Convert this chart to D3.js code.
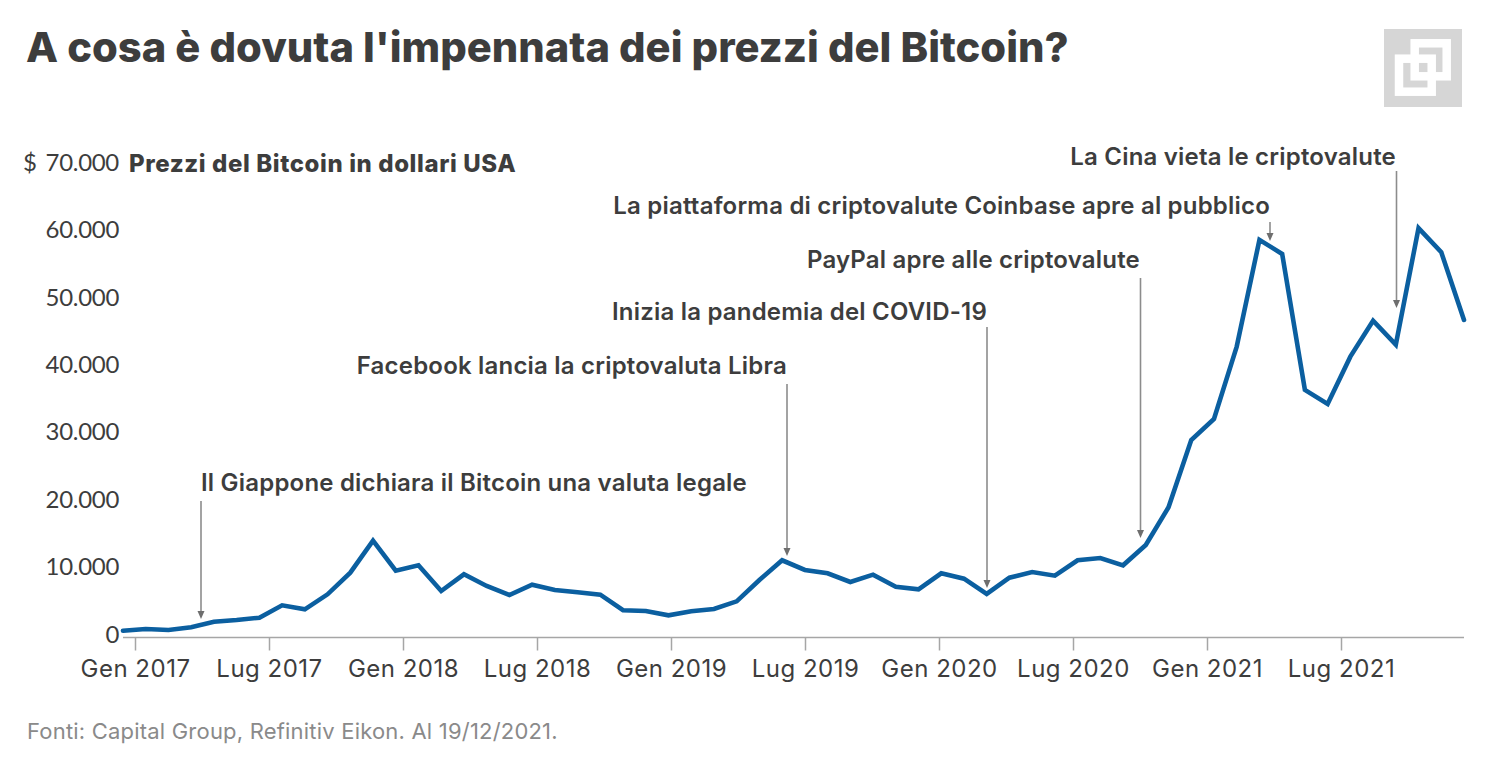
<!DOCTYPE html>
<html>
<head>
<meta charset="utf-8">
<script src="https://cdn.jsdelivr.net/npm/d3@7"></script>
<style>
  body { margin: 0; background: #fff; }
  text { font-family: "Inter", sans-serif; }
</style>
</head>
<body>
<svg id="graphic" width="1500" height="761"></svg>
<script>
// monthly prices, Gen 2017 -> Dic 2021
var prices = [1000, 1260, 1110, 1510, 2340, 2600, 2940, 4780, 4180, 6410, 9620, 14360,
  9910, 10710, 6900, 9380, 7640, 6310, 7840, 7050, 6710, 6350, 4040, 3930,
  3290, 3890, 4230, 5370, 8530, 11460, 10020, 9530, 8240, 9320, 7540, 7150,
  9530, 8730, 6460, 8870, 9720, 9170, 11460, 11800, 10710, 13730, 19320, 29310,
  32430, 43160, 58990, 56910, 36730, 34650, 41670, 47010, 43450, 60730, 57160, 47120];
var yTicks = [0, 10000, 20000, 30000, 40000, 50000, 60000, 70000];
var yLabels = ['0', '10.000', '20.000', '30.000', '40.000', '50.000', '60.000', '$ 70.000'];
var xTicks = [0, 6, 12, 18, 24, 30, 36, 42, 48, 54];
var xLabels = ['Gen 2017', 'Lug 2017', 'Gen 2018', 'Lug 2018', 'Gen 2019', 'Lug 2019', 'Gen 2020', 'Lug 2020', 'Gen 2021', 'Lug 2021'];
var events = ['Il Giappone dichiara il Bitcoin una valuta legale',
  'Facebook lancia la criptovaluta Libra',
  'Inizia la pandemia del COVID-19',
  'PayPal apre alle criptovalute',
  'La piattaforma di criptovalute Coinbase apre al pubblico',
  'La Cina vieta le criptovalute'];

var svg = d3.select('#graphic');
var ink = '#3d3d3d';

var x = d3.scaleLinear().domain([0, prices.length - 1]).range([123, 1464]);
// tick marks run on their own slightly tighter spacing than the points
var xTick = d3.scaleLinear().domain([0, 54]).range([135, 1341]);
var y = d3.scaleLinear().domain([0, 70000]).range([637.5, 165.7]);

// title + subtitle
svg.append('text').attr('x', 26).attr('y', 62)
  .style('font-size', '41.7px').style('font-weight', 800).attr('fill', ink)
  .text("A cosa è dovuta l'impennata dei prezzi del Bitcoin?");
svg.append('text').attr('x', 129).attr('y', 172)
  .style('font-size', '24px').style('font-weight', 800).style('letter-spacing', '0.6px').attr('fill', ink)
  .text('Prezzi del Bitcoin in dollari USA');

// logo
var logo = svg.append('g');
logo.append('rect').attr('x', 1384).attr('y', 29).attr('width', 78).attr('height', 78).attr('fill', '#d6d6d6');
logo.append('rect').attr('x', 1414.7).attr('y', 43.3).attr('width', 32).attr('height', 33)
  .attr('fill', 'none').attr('stroke', '#fff').attr('stroke-width', 8.5);
logo.append('rect').attr('x', 1399).attr('y', 58.7).attr('width', 32.7).attr('height', 33)
  .attr('fill', 'none').attr('stroke', '#fff').attr('stroke-width', 8.5);

// y axis, labels sit a little above the real value
var yAxis = svg.append('g').attr('transform', 'translate(119,-3)')
  .call(d3.axisLeft(y).tickValues(yTicks).tickSize(0).tickPadding(0).tickFormat(function (d, i) { return yLabels[i]; }));
yAxis.select('.domain').remove();
yAxis.selectAll('text').style('font-size', '24px').style('font-family', 'Lato')
  .style('letter-spacing', '-0.3px').style('word-spacing', '3px').attr('fill', ink);

// x axis
var xAxis = svg.append('g').attr('transform', 'translate(0,637.5)')
  .call(d3.axisBottom(xTick).tickValues(xTicks).tickSize(13).tickPadding(9).tickFormat(function (d, i) { return xLabels[i]; }));
xAxis.select('.domain').remove();
xAxis.selectAll('line').attr('stroke', '#a6a6a6').attr('stroke-width', 1.5);
xAxis.selectAll('text').style('font-size', '24px').style('font-family', 'Inter')
  .style('letter-spacing', '0.5px').attr('fill', ink);
svg.append('line').attr('x1', 123).attr('x2', 1464).attr('y1', 637.5).attr('y2', 637.5)
  .attr('stroke', '#a6a6a6').attr('stroke-width', 1.5);

// annotations
var anchors = [
  { tx: 201, ty: 491, anchor: 'start', ax: 201, y1: 501, y2: 619 },
  { tx: 787, ty: 374, anchor: 'end', ax: 787, y1: 384, y2: 556 },
  { tx: 987, ty: 320, anchor: 'end', ax: 987, y1: 327, y2: 588 },
  { tx: 1140, ty: 268, anchor: 'end', ax: 1140.5, y1: 278, y2: 538 },
  { tx: 1270, ty: 214, anchor: 'end', ax: 1270, y1: 222, y2: 241 },
  { tx: 1396, ty: 165, anchor: 'end', ax: 1396.5, y1: 171, y2: 308 }
];
anchors.forEach(function (a, i) {
  svg.append('text').attr('x', a.tx).attr('y', a.ty).attr('text-anchor', a.anchor)
    .style('font-size', '24px').style('font-weight', 600).style('letter-spacing', '0.2px')
    .attr('fill', ink).text(events[i]);
  svg.append('line').attr('x1', a.ax).attr('x2', a.ax).attr('y1', a.y1).attr('y2', a.y2 - 6)
    .attr('stroke', '#8c8c8c').attr('stroke-width', 1.6);
  svg.append('path').attr('fill', '#6e6e6e')
    .attr('d', 'M' + (a.ax - 3.5) + ',' + (a.y2 - 8) + 'L' + (a.ax + 3.5) + ',' + (a.y2 - 8) + 'L' + a.ax + ',' + a.y2 + 'Z');
});

// price line
var line = d3.line().x(function (d, i) { return x(i); }).y(function (d) { return y(d); });
svg.append('path').datum(prices).attr('d', line)
  .attr('fill', 'none').attr('stroke', '#0b5fa0').attr('stroke-width', 4.6)
  .attr('stroke-linecap', 'round').attr('stroke-linejoin', 'miter');

// source
svg.append('text').attr('x', 27).attr('y', 739)
  .style('font-size', '22px').style('letter-spacing', '0.2px').attr('fill', '#8a8a8a')
  .text('Fonti: Capital Group, Refinitiv Eikon. Al 19/12/2021.');
</script>
</body>
</html>
